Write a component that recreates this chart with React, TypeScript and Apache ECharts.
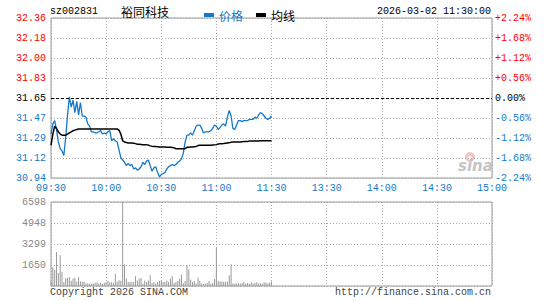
import React, { useEffect, useRef } from "react";
import * as echarts from "echarts";

const stockCode = "sz002831";
const stockName = "裕同科技";
const stamp = "2026-03-02 11:30:00";
const basePrice = 31.65;

const priceTickLabels = ["30.94", "31.12", "31.29", "31.47", "31.65", "31.83", "32.00", "32.18", "32.36"];
const pctTickLabels = ["-2.24%", "-1.68%", "-1.12%", "-0.56%", "0.00%", "+0.56%", "+1.12%", "+1.68%", "+2.24%"];
const volTickLabels = ["", "1650", "3299", "4948", "6598"];

const prices = [
  31.33, 31.42, 31.45, 31.37, 31.26, 31.2, 31.18, 31.14, 31.3, 31.5,
  31.66, 31.57, 31.63, 31.52, 31.62, 31.5, 31.61, 31.49, 31.49, 31.48,
  31.42, 31.4, 31.35, 31.35, 31.34, 31.34, 31.35, 31.36, 31.33, 31.34,
  31.33, 31.35, 31.36, 31.27, 31.29, 31.27, 31.26, 31.19, 31.12, 31.1,
  31.08, 31.05, 31.07, 31.05, 31.06, 31.02, 31.03, 31.01, 31.02, 31.04,
  31.08, 31.06, 31.09, 31.1, 31.05, 31.0, 31.03, 31.04, 30.99, 30.95,
  30.97, 30.98, 30.99, 31.02, 31.04, 31.05, 31.06, 31.05, 31.06, 31.08,
  31.09, 31.11, 31.16, 31.26, 31.32, 31.32, 31.34, 31.32, 31.36, 31.4,
  31.41, 31.41, 31.38, 31.34, 31.35, 31.35, 31.35, 31.36, 31.38, 31.41,
  31.4, 31.37, 31.39, 31.41, 31.42, 31.4, 31.48, 31.54, 31.49, 31.38,
  31.37, 31.41, 31.45, 31.45, 31.44, 31.45, 31.45, 31.45, 31.46, 31.46,
  31.46, 31.48, 31.47, 31.5, 31.52, 31.51, 31.49, 31.47, 31.46, 31.47,
  31.49,
];

const avgPrices = [
  31.23, 31.33, 31.4, 31.38, 31.35, 31.33, 31.32, 31.32, 31.32, 31.33,
  31.34, 31.35, 31.36, 31.365, 31.37, 31.375, 31.375, 31.375, 31.375, 31.375,
  31.375, 31.375, 31.375, 31.375, 31.375, 31.375, 31.375, 31.375, 31.375, 31.375,
  31.375, 31.375, 31.375, 31.375, 31.375, 31.375, 31.375, 31.365, 31.33, 31.27,
  31.26, 31.255, 31.25, 31.25, 31.25, 31.248, 31.245, 31.24, 31.24, 31.238,
  31.236, 31.235, 31.234, 31.232, 31.225, 31.222, 31.22, 31.22, 31.218, 31.215,
  31.215, 31.215, 31.215, 31.214, 31.213, 31.212, 31.21, 31.208, 31.2, 31.2,
  31.2, 31.2, 31.2, 31.2, 31.212, 31.214, 31.215, 31.216, 31.218, 31.22,
  31.228, 31.23, 31.23, 31.23, 31.23, 31.23, 31.23, 31.23, 31.232, 31.234,
  31.236, 31.242, 31.245, 31.245, 31.246, 31.248, 31.25, 31.252, 31.258, 31.26,
  31.26, 31.26, 31.26, 31.26, 31.262, 31.263, 31.264, 31.265, 31.268, 31.268,
  31.268, 31.268, 31.269, 31.269, 31.27, 31.27, 31.27, 31.27, 31.27, 31.27,
  31.27,
];

const volumes = [
  300, 1490, 1260, 2670, 1020, 2410, 1100, 320, 600, 620,
  700, 420, 580, 640, 330, 700, 360, 340, 320, 220,
  200, 180, 180, 200, 260, 280, 200, 250, 180, 250,
  300, 420, 300, 300, 240, 970, 330, 450, 420, 6598,
  1680, 580, 320, 320, 320, 320, 760, 440, 580, 620,
  180, 440, 320, 440, 840, 240, 300, 200, 320, 400,
  440, 320, 320, 440, 320, 580, 760, 240, 320, 400,
  580, 900, 240, 400, 1650, 1290, 500, 320, 400, 200,
  660, 400, 200, 150, 200, 230, 400, 150, 250, 550,
  2985, 400, 350, 350, 340, 330, 340, 840, 1700, 200,
  180, 200, 220, 180, 240, 320, 200, 250, 180, 300,
  200, 240, 300, 200, 220, 180, 300, 250, 200, 280,
  350,
];

function buildTimes(): string[] {
  const out: string[] = [];
  const fmt = (m: number) =>
    String(Math.floor(m / 60)).padStart(2, "0") + ":" + String(m % 60).padStart(2, "0");
  for (let m = 9 * 60 + 30; m <= 11 * 60 + 30; m++) out.push(fmt(m));
  for (let m = 13 * 60 + 1; m <= 15 * 60; m++) out.push(fmt(m));
  return out;
}
const times = buildTimes();

const MONO = "Liberation Mono";
const CJK = "Noto Sans CJK SC";
const BLUE = "#1479c9";
const RED = "#ff0000";
const SPAN = 0.71;
const STEP = 0.1775;

const signColor = (v: any) => {
  const n = parseFloat(v);
  if (n > 1e-6) return RED;
  if (n < -1e-6) return BLUE;
  return "#000";
};

const dotted = { show: true, lineStyle: { color: "#aaa", type: [1, 2] as any, width: 1 } };

export default function App() {
  const ref = useRef<HTMLDivElement>(null);
  useEffect(() => {
    const chart = echarts.init(ref.current!, null, { renderer: "svg" });
    const option: any = {
      animation: false,
      backgroundColor: "#fff",
      grid: [
        { left: 51, right: 53, top: 18, height: 160, show: true, borderColor: "#999", borderWidth: 1 },
        { left: 51, right: 53, top: 202, height: 84, show: true, borderColor: "#999", borderWidth: 1 },
      ],
      legend: {
        left: 199,
        top: 4,
        icon: "rect",
        itemWidth: 10,
        itemHeight: 4,
        itemGap: 13,
        textStyle: { fontFamily: CJK, fontSize: 12 },
        data: [
          { name: "价格", textStyle: { color: BLUE } },
          { name: "均线", textStyle: { color: "#000" } },
        ],
      },
      xAxis: [
        {
          type: "category",
          gridIndex: 0,
          data: times,
          boundaryGap: false,
          axisLine: { show: false },
          axisTick: { show: false },
          axisLabel: {
            interval: (i: number) => i % 30 === 0,
            color: BLUE,
            fontFamily: MONO,
            fontSize: 10,
            margin: 5,
          },
          splitLine: { ...dotted, interval: (i: number) => i % 30 === 0 },
        },
        {
          type: "category",
          gridIndex: 1,
          data: times,
          boundaryGap: false,
          axisLine: { show: false },
          axisTick: { show: false },
          axisLabel: { show: false },
          splitLine: { ...dotted, interval: (i: number) => i % 30 === 0 },
        },
      ],
      yAxis: [
        {
          type: "value",
          gridIndex: 0,
          min: -SPAN,
          max: SPAN,
          interval: STEP,
          axisLine: { show: false },
          axisTick: { show: false },
          splitLine: dotted,
          axisLabel: {
            fontFamily: MONO,
            fontSize: 10,
            margin: 5,
            color: signColor,
            formatter: (v: number) => priceTickLabels[Math.round((v + SPAN) / STEP)],
          },
        },
        {
          type: "value",
          gridIndex: 0,
          position: "right",
          min: -SPAN,
          max: SPAN,
          interval: STEP,
          axisLine: { show: false },
          axisTick: { show: false },
          splitLine: { show: false },
          axisLabel: {
            fontFamily: MONO,
            fontSize: 10,
            margin: 3,
            color: signColor,
            formatter: (v: number) => pctTickLabels[Math.round((v + SPAN) / STEP)],
          },
        },
        {
          type: "value",
          gridIndex: 1,
          min: 0,
          max: 6598,
          interval: 1649.5,
          axisLine: { show: false },
          axisTick: { show: false },
          splitLine: dotted,
          axisLabel: {
            fontFamily: MONO,
            fontSize: 10,
            margin: 5,
            color: "#888",
            formatter: (v: number) => volTickLabels[Math.round(v / 1649.5)],
          },
        },
      ],
      series: [
        {
          name: "价格",
          type: "line",
          xAxisIndex: 0,
          yAxisIndex: 0,
          data: prices.map((p) => +(p - basePrice).toFixed(4)),
          showSymbol: false,
          symbol: "none",
          lineStyle: { color: BLUE, width: 1.3 },
          itemStyle: { color: BLUE },
          z: 3,
          markLine: {
            silent: true,
            symbol: "none",
            label: { show: false },
            lineStyle: { color: "#000", type: [3, 2], width: 1 },
            data: [{ yAxis: 0 }],
          },
        },
        {
          name: "均线",
          type: "line",
          xAxisIndex: 0,
          yAxisIndex: 0,
          data: avgPrices.map((p) => +(p - basePrice).toFixed(4)),
          showSymbol: false,
          symbol: "none",
          lineStyle: { color: "#000", width: 1.5 },
          itemStyle: { color: "#000" },
          z: 4,
        },
        {
          name: "成交量",
          type: "bar",
          xAxisIndex: 1,
          yAxisIndex: 2,
          data: volumes,
          barWidth: 1,
          itemStyle: { color: "#999" },
        },
      ],
      graphic: [
        {
          type: "text",
          x: 50,
          y: 11,
          style: { text: stockCode, font: `10px "${MONO}"`, fill: "#000", textVerticalAlign: "middle" },
        },
        {
          type: "text",
          x: 121,
          y: 11,
          style: { text: stockName, font: `12px "${CJK}"`, fill: "#000", textVerticalAlign: "middle" },
        },
        {
          type: "text",
          x: 491,
          y: 11,
          style: { text: stamp, font: `10px "${MONO}"`, fill: "#000", textAlign: "right", textVerticalAlign: "middle" },
        },
        {
          type: "text",
          x: 50,
          y: 292,
          style: { text: "Copyright 2026 SINA.COM", font: `10px "${MONO}"`, fill: "#444", textVerticalAlign: "middle" },
        },
        {
          type: "text",
          x: 491,
          y: 292,
          style: {
            text: "http://finance.sina.com.cn",
            font: `10px "${MONO}"`,
            fill: "#444",
            textAlign: "right",
            textVerticalAlign: "middle",
          },
        },
        {
          type: "circle",
          shape: { cx: 470, cy: 157, r: 5 },
          style: { fill: "#f4c4c4" },
          silent: true,
        },
        {
          type: "circle",
          shape: { cx: 470, cy: 158, r: 2 },
          style: { fill: "#fff" },
          silent: true,
        },
        {
          type: "text",
          x: 458,
          y: 166,
          style: {
            text: "sina",
            font: `italic bold 15px "DejaVu Sans"`,
            fill: "#c4c4c4",
            textVerticalAlign: "middle",
          },
          silent: true,
        },
      ],
    };
    chart.setOption(option);
    return () => chart.dispose();
  }, []);
  return (
    <div
      ref={ref}
      style={{ position: "absolute", left: 0, top: 0, width: 545, height: 300, background: "#fff" }}
    />
  );
}
